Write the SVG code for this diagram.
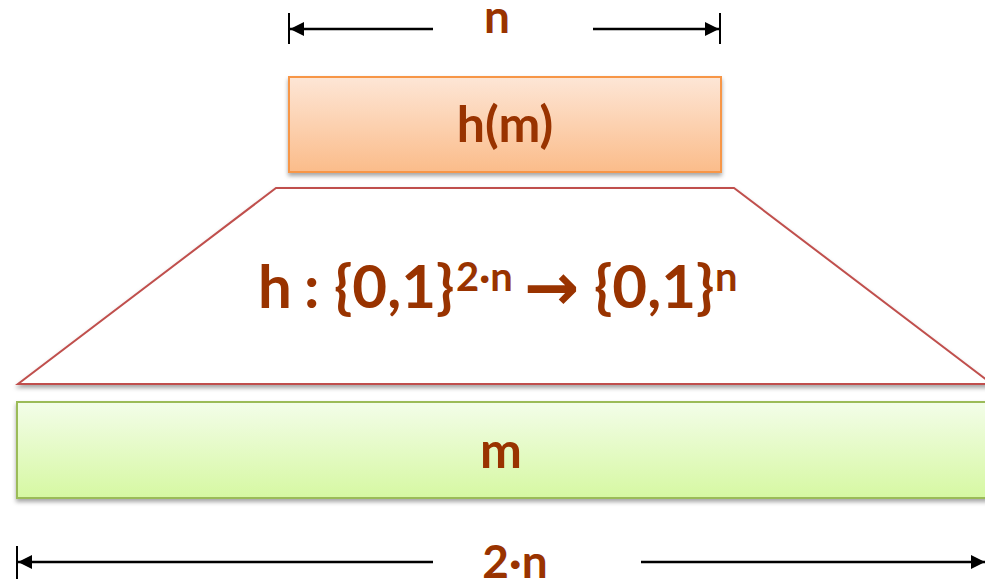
<svg xmlns="http://www.w3.org/2000/svg" width="985" height="579" viewBox="0 0 985 579">
<style>
.lbl{font-family:Lato,"Open Sans","Liberation Sans",sans-serif;font-weight:bold;fill:#993300}
.dim{stroke:#000;stroke-width:2.5;fill:none}
.tick{stroke:#000;stroke-width:2}
</style>
<defs>
<linearGradient id="gO" x1="0" y1="0" x2="0" y2="1"><stop offset="0" stop-color="#fde6d6"/><stop offset="1" stop-color="#fbbc8a"/></linearGradient>
<linearGradient id="gG" x1="0" y1="0" x2="0" y2="1"><stop offset="0" stop-color="#f3fde9"/><stop offset="1" stop-color="#d6f8a2"/></linearGradient>
<filter id="sh" x="-5%" y="-20%" width="110%" height="150%"><feDropShadow dx="0" dy="3" stdDeviation="2" flood-color="#000" flood-opacity="0.35"/></filter>
<marker id="ah" viewBox="0 0 10 10" refX="10" refY="5" markerWidth="16" markerHeight="14" markerUnits="userSpaceOnUse" orient="auto-start-reverse"><path d="M0,0 L10,5 L0,10 Z" fill="#000"/></marker>
</defs>
<g id="connectors">
<line class="tick" x1="289" y1="13" x2="289" y2="44"/>
<line class="tick" x1="720" y1="13" x2="720" y2="44"/>
<line class="dim" x1="290" y1="29" x2="433" y2="29" marker-start="url(#ah)"/>
<line class="dim" x1="593" y1="29" x2="719" y2="29" marker-end="url(#ah)"/>
<line class="tick" x1="17" y1="546" x2="17" y2="579"/>
<line class="dim" x1="18" y1="562" x2="433" y2="562" marker-start="url(#ah)"/>
<line class="dim" x1="641" y1="562" x2="985" y2="562" marker-end="url(#ah)"/>
</g>
<g id="dim-n"><text class="lbl" x="497" y="33" font-size="46" text-anchor="middle">n</text></g>
<g id="dim-2n"><text class="lbl" x="515" y="578" font-size="46" text-anchor="middle">2·n</text></g>
<g id="hm">
<rect x="289" y="77" width="432" height="95" fill="url(#gO)" stroke="#f79646" stroke-width="2" filter="url(#sh)"/>
<text class="lbl" x="505" y="142" font-size="50" text-anchor="middle">h(m)</text>
</g>
<g id="func">
<polygon points="276,188 734,188 992,384 18,384" fill="#fff" stroke="#c0504d" stroke-width="2" filter="url(#sh)"/>
<text class="lbl" y="308" font-size="60"><tspan x="258">h</tspan><tspan x="304">:</tspan><tspan x="334">{0,1}</tspan><tspan x="456" y="291" font-size="40">2·n</tspan><tspan x="524" y="310" font-size="66" font-family="'DejaVu Sans',sans-serif">→</tspan><tspan x="594" y="308">{0,1}</tspan><tspan x="715" y="291" font-size="40">n</tspan></text>
</g>
<g id="m">
<rect x="17" y="402" width="975" height="96" fill="url(#gG)" stroke="#9bbb59" stroke-width="2" filter="url(#sh)"/>
<text class="lbl" x="501" y="468" font-size="50" text-anchor="middle">m</text>
</g>
</svg>
